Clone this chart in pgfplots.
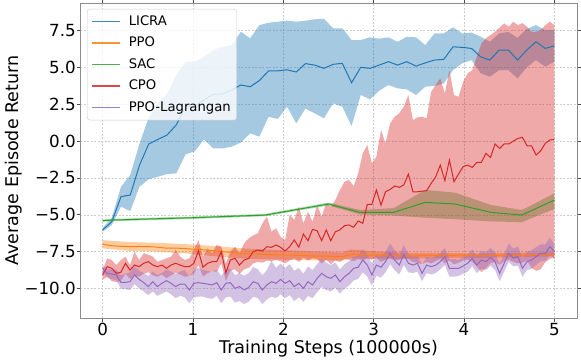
\documentclass[border=0pt]{standalone}
\usepackage{fontspec}
\setmainfont{DejaVu Sans}
\usepackage{pgfplots}
\pgfplotsset{compat=1.18}
\usepackage{pgfplotstable}
\usepgfplotslibrary{fillbetween}
\usetikzlibrary{calc}

\definecolor{cLicra}{HTML}{1F77B4}
\definecolor{cPpo}{HTML}{FF7F0E}
\definecolor{cSac}{HTML}{2CA02C}
\definecolor{cCpo}{HTML}{D62728}
\definecolor{cLag}{HTML}{9467BD}

% LICRA: mean, upper, lower
\pgfplotstableread{
x m u l
0.000 -6.03 -5.90 -6.15
0.102 -5.47 -5.20 -5.70
0.204 -3.77 -3.10 -4.45
0.306 -3.66 -2.30 -4.75
0.408 -1.65 -0.20 -3.10
0.510 -0.20 1.60 -2.60
0.612 0.11 2.60 -2.42
0.714 0.41 3.20 -2.24
0.816 1.10 4.50 -2.19
0.918 2.30 5.38 -0.90
1.020 2.37 5.38 -0.70
1.122 2.78 5.71 0.10
1.224 3.17 6.17 -0.50
1.327 3.19 6.39 -0.50
1.429 3.46 6.50 -0.38
1.531 3.80 7.41 -0.10
1.633 3.68 6.96 0.52
1.735 4.10 7.86 0.30
1.837 4.76 8.02 1.65
1.939 4.76 8.09 1.50
2.041 4.83 8.16 2.33
2.143 4.68 8.09 1.20
2.245 5.25 8.16 2.20
2.347 5.15 8.25 1.88
2.449 4.93 8.30 1.54
2.551 5.20 7.64 2.55
2.653 5.27 7.64 2.33
2.755 3.95 6.85 1.02
2.857 5.00 6.85 3.12
2.959 4.93 7.03 2.83
3.061 5.15 6.94 3.41
3.163 5.38 7.03 3.80
3.265 5.15 6.73 3.57
3.367 5.38 7.07 3.50
3.469 5.08 7.03 3.12
3.571 5.30 6.50 3.69
3.673 5.49 7.30 3.73
3.776 5.54 7.30 3.91
3.878 6.39 7.71 4.81
3.980 6.35 7.30 5.27
4.082 6.28 7.35 5.49
4.184 5.71 7.07 4.60
4.286 5.49 6.73 4.36
4.388 6.17 7.30 4.81
4.490 6.17 7.40 4.81
4.592 5.49 7.00 4.25
4.694 6.17 7.60 5.00
4.796 6.73 7.86 5.49
4.898 6.28 7.52 5.04
5.000 6.46 7.52 5.38
}\licra

% PPO: mean
\pgfplotstableread{
x m
0.000 -7.00
0.102 -7.10
0.204 -7.14
0.306 -7.16
0.408 -7.15
0.510 -7.16
0.612 -7.20
0.714 -7.27
0.816 -7.26
0.918 -7.30
1.020 -7.34
1.122 -7.38
1.224 -7.44
1.327 -7.50
1.429 -7.55
1.531 -7.62
1.633 -7.65
1.735 -7.66
1.837 -7.70
1.939 -7.72
2.041 -7.73
2.143 -7.74
2.245 -7.77
2.347 -7.80
2.449 -7.80
2.551 -7.82
2.653 -7.84
2.755 -7.68
2.857 -7.72
2.959 -7.74
3.061 -7.73
3.163 -7.76
3.265 -7.78
3.367 -7.80
3.469 -7.78
3.571 -7.77
3.673 -7.76
3.776 -7.78
3.878 -7.75
3.980 -7.74
4.082 -7.76
4.184 -7.78
4.286 -7.77
4.388 -7.74
4.490 -7.75
4.592 -7.74
4.694 -7.72
4.796 -7.70
4.898 -7.69
5.000 -7.68
}\ppo

% PPO: band
\pgfplotstableread{
x u l
0.000 -6.72 -7.28
0.300 -6.85 -7.45
0.600 -6.90 -7.50
1.000 -7.02 -7.66
1.300 -7.15 -7.85
1.600 -7.30 -7.98
2.000 -7.40 -8.05
2.400 -7.50 -8.10
2.650 -7.55 -8.10
2.750 -7.35 -7.95
3.000 -7.48 -7.98
3.400 -7.58 -7.98
3.800 -7.60 -7.92
4.200 -7.62 -7.92
4.600 -7.58 -7.88
5.000 -7.55 -7.82
}\ppoband

% SAC
\pgfplotstableread{
x m u l
0.000 -5.40 -5.32 -5.48
0.100 -5.36 -5.28 -5.44
1.000 -5.20 -5.12 -5.28
1.800 -5.02 -4.94 -5.10
2.500 -4.27 -4.17 -4.37
2.850 -4.84 -4.68 -4.98
3.220 -4.84 -4.55 -5.05
3.570 -4.16 -3.32 -5.20
3.900 -4.27 -3.50 -5.30
4.300 -4.84 -4.34 -5.45
4.640 -5.02 -4.68 -5.50
5.000 -4.00 -3.55 -4.60
}\sac

% CPO
\pgfplotstableread{
x m u l
0.000 -9.08 -8.75 -9.40
0.051 -8.52 -7.95 -9.20
0.101 -8.63 -8.07 -9.50
0.152 -8.97 -8.41 -9.55
0.202 -8.90 -8.07 -9.50
0.253 -8.29 -7.84 -9.00
0.303 -8.75 -8.41 -9.35
0.354 -8.41 -7.50 -9.10
0.404 -8.52 -8.07 -9.20
0.455 -8.29 -7.61 -9.00
0.505 -8.18 -7.70 -8.90
0.556 -8.41 -7.84 -9.10
0.606 -8.52 -8.18 -9.20
0.657 -8.41 -8.07 -9.05
0.707 -8.63 -7.95 -9.30
0.758 -8.41 -7.84 -9.10
0.808 -8.29 -7.39 -8.95
0.859 -8.41 -7.84 -9.05
0.909 -8.52 -8.07 -9.20
0.960 -8.52 -7.95 -9.15
1.010 -8.29 -7.39 -9.00
1.061 -7.46 -6.71 -8.40
1.111 -8.56 -7.84 -9.20
1.162 -8.29 -7.28 -8.95
1.212 -8.18 -7.61 -8.85
1.263 -8.18 -7.05 -8.85
1.313 -7.50 -7.16 -8.30
1.364 -8.93 -8.29 -9.50
1.414 -8.07 -7.50 -8.80
1.465 -7.95 -7.16 -8.70
1.515 -8.41 -7.61 -9.00
1.566 -8.07 -6.94 -8.70
1.616 -7.96 -6.60 -8.60
1.667 -7.50 -6.40 -8.30
1.717 -7.39 -6.26 -8.20
1.768 -7.46 -5.60 -8.25
1.818 -7.16 -5.12 -8.10
1.869 -7.21 -6.15 -8.15
1.919 -7.05 -5.92 -8.05
1.970 -7.21 -6.50 -8.15
2.020 -7.45 -6.71 -8.30
2.071 -7.16 -5.00 -8.10
2.121 -6.71 -5.35 -7.95
2.172 -7.20 -4.45 -8.20
2.222 -6.31 -5.58 -7.90
2.273 -6.76 -4.79 -8.10
2.323 -5.99 -5.47 -7.95
2.374 -6.08 -4.34 -8.00
2.424 -6.76 -5.12 -8.30
2.475 -6.03 -4.22 -8.05
2.525 -6.76 -4.45 -8.35
2.576 -6.15 -4.00 -8.10
2.626 -6.03 -3.32 -8.20
2.677 -5.74 -2.76 -8.00
2.727 -5.69 -2.64 -8.05
2.778 -5.85 -3.05 -8.15
2.828 -5.42 -2.20 -8.00
2.879 -5.58 -0.84 -8.10
2.929 -4.29 -0.27 -7.95
2.980 -4.29 -1.51 -8.05
3.030 -3.32 -1.06 -7.90
3.081 -4.34 0.75 -8.20
3.131 -3.44 -0.16 -8.05
3.182 -3.28 1.20 -7.95
3.232 -3.05 1.65 -8.10
3.283 -3.14 1.88 -8.05
3.333 -2.98 2.33 -7.95
3.384 -2.24 3.12 -8.00
3.434 -3.44 1.42 -8.20
3.485 -3.44 1.60 -8.25
3.535 -3.40 1.65 -8.35
3.586 -3.37 1.54 -8.20
3.636 -2.87 3.34 -8.30
3.687 -2.42 3.80 -8.15
3.737 -1.63 4.25 -8.00
3.788 -2.69 3.23 -8.30
3.838 -1.29 4.81 -8.10
3.889 -2.76 3.12 -8.35
3.939 -2.24 3.00 -8.25
3.990 -1.74 4.02 -8.10
4.040 -1.63 4.59 -8.05
4.091 -1.79 4.81 -8.20
4.141 -1.44 5.71 -8.50
4.192 -1.44 6.62 -8.90
4.242 -0.84 6.96 -8.60
4.293 -1.11 7.19 -8.30
4.343 -0.20 7.41 -8.20
4.394 -0.50 7.70 -8.40
4.444 -0.20 7.98 -8.15
4.495 -0.20 7.75 -8.05
4.545 0.00 8.09 -8.20
4.596 0.18 7.86 -8.30
4.646 0.25 8.00 -8.25
4.697 -0.32 7.75 -8.10
4.747 -0.32 7.41 -8.60
4.798 -0.95 7.41 -8.80
4.848 -0.66 7.52 -8.70
4.899 -0.16 7.86 -8.20
4.949 0.07 8.09 -8.00
5.000 0.11 7.86 -7.90
}\cpo

% PPO-Lagrangan
\pgfplotstableread{
x m u l
0.000 -8.63 -8.40 -8.85
0.051 -8.97 -8.70 -9.25
0.101 -9.02 -8.70 -9.35
0.152 -9.08 -8.70 -9.45
0.202 -9.58 -9.10 -10.00
0.253 -9.58 -9.00 -10.05
0.303 -9.54 -8.90 -10.10
0.354 -9.08 -8.50 -9.70
0.404 -9.38 -8.80 -10.00
0.455 -9.60 -8.95 -10.20
0.505 -9.87 -9.15 -10.45
0.556 -9.54 -8.85 -10.20
0.606 -9.87 -9.10 -10.50
0.657 -9.65 -8.95 -10.35
0.707 -9.47 -8.70 -10.20
0.758 -9.65 -8.85 -10.40
0.808 -9.87 -9.05 -10.65
0.859 -9.70 -8.85 -10.50
0.909 -9.70 -8.75 -10.60
0.960 -10.10 -9.20 -11.00
1.010 -9.65 -8.75 -10.60
1.061 -9.60 -8.60 -10.55
1.111 -9.65 -8.75 -10.55
1.162 -9.70 -8.80 -10.65
1.212 -9.76 -8.90 -10.70
1.263 -9.60 -8.70 -10.50
1.313 -10.10 -9.15 -11.00
1.364 -9.65 -8.70 -10.60
1.414 -9.60 -8.65 -10.55
1.465 -9.99 -9.10 -10.95
1.515 -9.87 -8.95 -10.85
1.566 -10.10 -9.15 -11.05
1.616 -9.93 -8.95 -10.90
1.667 -9.54 -8.55 -10.55
1.717 -9.65 -8.70 -10.65
1.768 -10.10 -9.10 -11.05
1.818 -9.76 -8.75 -10.75
1.869 -9.54 -8.10 -10.55
1.919 -9.65 -8.60 -10.65
1.970 -9.38 -8.30 -10.40
2.020 -9.65 -8.60 -10.65
2.071 -9.47 -8.35 -10.45
2.121 -9.87 -8.80 -10.85
2.172 -9.65 -8.60 -10.60
2.222 -9.99 -9.00 -10.90
2.273 -9.54 -8.50 -10.50
2.323 -9.76 -8.75 -10.65
2.374 -9.31 -8.35 -10.25
2.424 -8.97 -8.00 -9.90
2.475 -9.20 -8.25 -10.10
2.525 -9.31 -8.40 -10.20
2.576 -9.08 -8.25 -9.95
2.626 -9.54 -8.70 -10.35
2.677 -9.20 -8.35 -10.00
2.727 -8.97 -8.15 -9.80
2.778 -8.63 -7.85 -9.45
2.828 -8.56 -7.80 -9.35
2.879 -8.07 -7.35 -8.90
2.929 -8.41 -7.70 -9.20
2.980 -9.08 -8.30 -9.80
3.030 -8.41 -7.70 -9.15
3.081 -8.56 -7.85 -9.25
3.131 -8.18 -7.50 -8.90
3.182 -7.61 -6.95 -8.35
3.232 -8.07 -7.40 -8.75
3.283 -8.41 -7.75 -9.05
3.333 -7.70 -7.05 -8.40
3.384 -8.29 -7.70 -8.90
3.434 -8.41 -7.85 -8.95
3.485 -8.29 -7.75 -8.85
3.535 -8.97 -8.40 -9.50
3.586 -8.41 -7.85 -8.95
3.636 -8.52 -7.95 -9.05
3.687 -8.41 -7.85 -8.95
3.737 -8.18 -7.60 -8.70
3.788 -7.84 -7.25 -8.40
3.838 -8.63 -8.00 -9.20
3.889 -8.63 -8.00 -9.20
3.939 -8.63 -8.05 -9.15
3.990 -8.47 -7.90 -9.00
4.040 -8.29 -7.70 -8.85
4.091 -7.95 -7.35 -8.50
4.141 -8.41 -7.80 -8.95
4.192 -8.07 -7.45 -8.65
4.242 -8.18 -7.55 -8.75
4.293 -7.89 -7.25 -8.45
4.343 -8.18 -7.55 -8.75
4.394 -8.97 -8.35 -9.50
4.444 -8.29 -7.65 -8.85
4.495 -7.61 -6.95 -8.20
4.545 -7.95 -7.30 -8.50
4.596 -7.84 -7.15 -8.45
4.646 -8.63 -7.95 -9.20
4.697 -8.18 -7.50 -8.75
4.747 -8.07 -7.40 -8.65
4.798 -7.84 -7.20 -8.40
4.848 -7.61 -7.00 -8.15
4.899 -7.61 -7.00 -8.15
4.949 -7.16 -6.55 -7.75
5.000 -7.50 -7.00 -8.00
}\lag

\begin{document}
\begin{tikzpicture}
\begin{axis}[
  name=ax,
  width=497pt, height=315pt, scale only axis,
  xmin=-0.25, xmax=5.25, ymin=-12.0, ymax=9.36,
  no markers,
  xtick={0,1,2,3,4,5},
  xticklabels={0,1,2,3,4,5},
  ytick={-10,-7.5,-5,-2.5,0,2.5,5,7.5},
  yticklabels={−10.0,−7.5,−5.0,−2.5,0.0,2.5,5.0,7.5},
  tick align=outside, major tick length=3.5pt,
  tick style={black!70, line width=0.6pt},
  axis line style={black!45, line width=0.8pt},
  grid=major,
  grid style={black!20, dash pattern=on 2pt off 1.5pt, line width=0.5pt},
  tick label style={font=\fontsize{16.7}{18}\selectfont},
  xticklabel style={inner ysep=1.5pt},
  yticklabel style={inner xsep=0.5pt},
  label style={font=\fontsize{17.5}{20}\selectfont},
  xlabel={Training Steps (100000s)},
  ylabel={Average Episode Return},
  xlabel style={at={(axis description cs:0.5,-0.1127)}, anchor=base},
  ylabel style={at={(axis description cs:-0.1247,0.5)}, anchor=base},
  legend cell align=left,
  legend image code/.code={\draw[#1, line width=1.6pt, draw opacity=0.85] (0pt,0pt) -- (28pt,0pt);},
  legend style={at={(0.014,0.981)}, anchor=north west,
    draw=black!20, rounded corners=3pt,
    fill=white, fill opacity=0.8, text opacity=1,
    font=\fontsize{13.2}{15}\selectfont,
    inner xsep=4pt, inner ysep=4pt, row sep=4.5pt,
    /tikz/every odd column/.append style={column sep=6pt},
    nodes={text height=10pt, text depth=3pt}},
]
% bands
\addplot[name path=licU, draw=none, forget plot] table[x=x, y=u] {\licra};
\addplot[name path=licL, draw=none, forget plot] table[x=x, y=l] {\licra};
\addplot[fill=cLicra, fill opacity=0.4, draw=none, forget plot] fill between[of=licU and licL];

\addplot[name path=ppoU, draw=none, forget plot] table[x=x, y=u] {\ppoband};
\addplot[name path=ppoL, draw=none, forget plot] table[x=x, y=l] {\ppoband};
\addplot[fill=cPpo, fill opacity=0.4, draw=none, forget plot] fill between[of=ppoU and ppoL];

\addplot[name path=sacU, draw=none, forget plot] table[x=x, y=u] {\sac};
\addplot[name path=sacL, draw=none, forget plot] table[x=x, y=l] {\sac};
\addplot[fill=cSac, fill opacity=0.4, draw=none, forget plot] fill between[of=sacU and sacL];

\addplot[name path=cpoU, draw=none, forget plot] table[x=x, y=u] {\cpo};
\addplot[name path=cpoL, draw=none, forget plot] table[x=x, y=l] {\cpo};
\addplot[fill=cCpo, fill opacity=0.4, draw=none, forget plot] fill between[of=cpoU and cpoL];

\addplot[name path=lagU, draw=none, forget plot] table[x=x, y=u] {\lag};
\addplot[name path=lagL, draw=none, forget plot] table[x=x, y=l] {\lag};
\addplot[fill=cLag, fill opacity=0.4, draw=none, forget plot] fill between[of=lagU and lagL];

% mean curves
\addplot[cLicra, line width=1pt] table[x=x, y=m] {\licra};
\addlegendentry{LICRA}
\addplot[cPpo, line width=1pt] table[x=x, y=m] {\ppo};
\addlegendentry{PPO}
\addplot[cSac, line width=1pt] table[x=x, y=m] {\sac};
\addlegendentry{SAC}
\addplot[cCpo, line width=1pt] table[x=x, y=m] {\cpo};
\addlegendentry{CPO}
\addplot[cLag, line width=1pt] table[x=x, y=m] {\lag};
\addlegendentry{PPO-Lagrangan}

\node[anchor=base east, font=\fontsize{3.5}{4}\selectfont, yshift=-25.5pt] at (rel axis cs:1,0) {1e5};
\end{axis}
\pgfresetboundingbox
\path[use as bounding box] ($(ax.south west)+(-80pt,-43pt)$) rectangle ($(ax.north east)+(4pt,3pt)$);
\end{tikzpicture}
\end{document}
